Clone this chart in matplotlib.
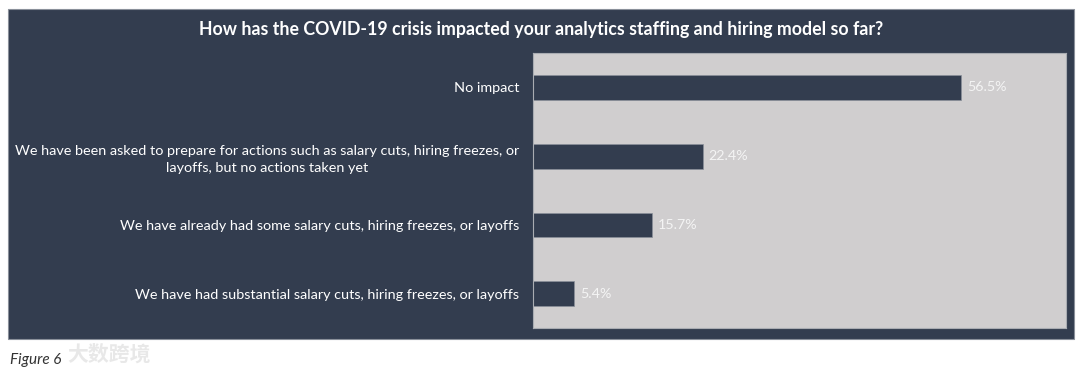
import matplotlib
matplotlib.use("Agg")
import matplotlib.pyplot as plt
from matplotlib.patches import Rectangle

# data
categories = [
    "No impact",
    "We have been asked to prepare for actions such as salary cuts, hiring freezes, or\nlayoffs, but no actions taken yet",
    "We have already had some salary cuts, hiring freezes, or layoffs",
    "We have had substantial salary cuts, hiring freezes, or layoffs",
]
values = [56.5, 22.4, 15.7, 5.4]
value_labels = ["56.5%", "22.4%", "15.7%", "5.4%"]

title = "How has the COVID-19 crisis impacted your analytics staffing and hiring model so far?"

navy = "#333d4f"
panel_gray = "#d0cecf"

plt.rcParams["font.family"] = ["Lato", "DejaVu Sans"]

fig = plt.figure(figsize=(10.8, 3.75), dpi=100)
fig.patch.set_facecolor("white")

# dark background panel
fig.patches.append(Rectangle((8 / 1080, 36 / 375), 1066 / 1080, 330 / 375,
                             transform=fig.transFigure, facecolor=navy,
                             edgecolor="#8a909a", linewidth=0.8, zorder=-5))

ax = fig.add_axes([533 / 1080, 47 / 375, 533 / 1080, 275 / 375])
ax.set_zorder(2)
ax.set_facecolor(panel_gray)
for s in ax.spines.values():
    s.set_color("#a9acb2")
    s.set_linewidth(0.8)

ypos = list(range(len(categories)))
ax.barh(ypos, values, height=0.36, color=navy, edgecolor="#8a909a", linewidth=0.5)
ax.set_xlim(0, 70.4)
ax.set_ylim(3.5, -0.5)

for y, v, lab in zip(ypos, values, value_labels):
    ax.text(v + 0.8, y, lab, va="center", ha="left", color="#f4f4f4", fontsize=10.3)

ax.set_xticks([])
ax.set_yticks(ypos)
ax.set_yticklabels(categories, color="white", fontsize=10.4, linespacing=1.45)
for t in ax.get_yticklabels():
    t.set_multialignment("center")
ax.tick_params(axis="y", length=0, pad=10)

fig.text(541 / 1080, 1 - 30 / 375, title, ha="center", va="center",
         color="white", fontsize=12.8, fontweight="bold")

fig.text(10 / 1080, 1 - 360 / 375, "Figure 6", ha="left", va="center",
         color="#333333", fontsize=11, style="italic")
fig.text(67 / 1080, 1 - 354 / 375, "大数跨境", ha="left", va="center",
         color="#e6e6e6", fontsize=15, fontweight="bold",
         family=["Noto Sans CJK SC", "DejaVu Sans"], alpha=0.9)

fig.savefig("out.png", dpi=100, facecolor=fig.get_facecolor())
